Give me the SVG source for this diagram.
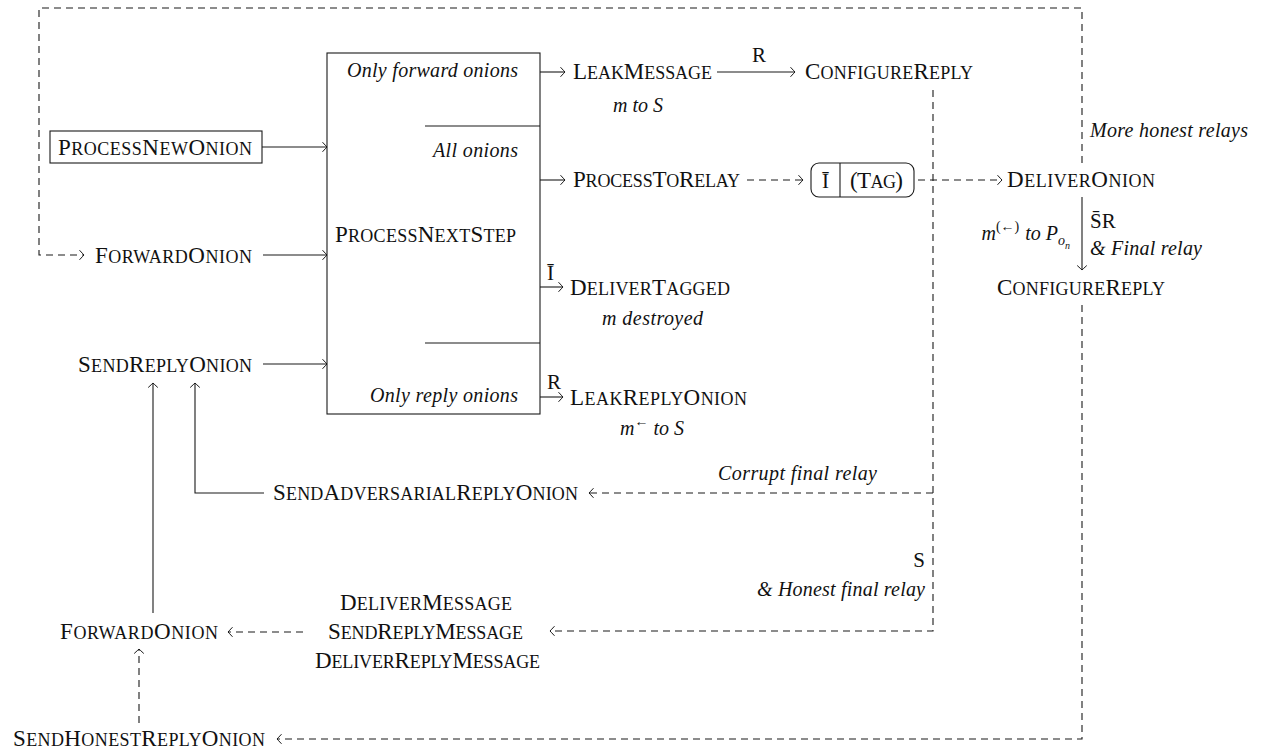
<svg xmlns="http://www.w3.org/2000/svg" width="1262" height="753" viewBox="0 0 1262 753">
<style>
.sc{font-family:"Liberation Serif","Times New Roman",serif;font-size:25.7px;font-variant:small-caps;fill:#111}
.C{font-size:23px}
.it{font-family:"Liberation Serif","Times New Roman",serif;font-size:20px;font-style:italic;fill:#111}
.rm{font-family:"Liberation Serif","Times New Roman",serif;font-size:21px;fill:#111}
.ln{fill:none;stroke:#1a1a1a;stroke-width:1.1}
.ds{fill:none;stroke:#1a1a1a;stroke-width:1.1;stroke-dasharray:7 5}
.box{fill:#fff;stroke:#1a1a1a;stroke-width:1.1}
.end{text-anchor:end}
.mid{text-anchor:middle}
</style>
<defs>
<marker id="to" viewBox="-6 -6 8 12" refX="0" refY="0" markerWidth="8" markerHeight="12" markerUnits="userSpaceOnUse" orient="auto">
<path d="M-4.5,-4.8 Q-1.2,-1.2 0,0 Q-1.2,1.2 -4.5,4.8" fill="none" stroke="#1a1a1a" stroke-width="1" stroke-dasharray="none"/>
</marker>
</defs>

<g id="connectors">
<line class="ln" x1="262" y1="147" x2="327" y2="147" marker-end="url(#to)"/>
<line class="ln" x1="263" y1="255" x2="327" y2="255" marker-end="url(#to)"/>
<line class="ln" x1="263" y1="364" x2="327" y2="364" marker-end="url(#to)"/>
<line class="ln" x1="540" y1="72" x2="565" y2="72" marker-end="url(#to)"/>
<line class="ln" x1="717" y1="72" x2="795" y2="72" marker-end="url(#to)"/>
<line class="ln" x1="540" y1="180" x2="565" y2="180" marker-end="url(#to)"/>
<line class="ds" x1="747" y1="180" x2="803" y2="180" marker-end="url(#to)"/>
<line class="ds" x1="918" y1="180" x2="1002" y2="180" marker-end="url(#to)"/>
<line class="ln" x1="540" y1="287" x2="563" y2="287" marker-end="url(#to)"/>
<line class="ln" x1="540" y1="397" x2="563" y2="397" marker-end="url(#to)"/>
<line class="ln" x1="1082" y1="197" x2="1082" y2="270" marker-end="url(#to)"/>
<path class="ds" d="M1082,163 V8 H39 V255 H84" marker-end="url(#to)"/>
<path class="ds" d="M933,90 V631 H550" marker-end="url(#to)"/>
<path class="ds" d="M933,493 H589" marker-end="url(#to)"/>
<path class="ds" d="M1082,305 V739 H277" marker-end="url(#to)"/>
<path class="ln" d="M264,493 H195 V383" marker-end="url(#to)"/>
<path class="ln" d="M153,613 V383" marker-end="url(#to)"/>
<path class="ds" d="M303,632 H228" marker-end="url(#to)"/>
<path class="ds" d="M139,723 V649" marker-end="url(#to)"/>
<text class="rm" x="752" y="62">R</text>
<text class="rm" x="547" y="280">Ī</text>
<text class="rm" x="547" y="389">R</text>
<text class="rm" x="1090" y="228">S̄R</text>
<text class="it" x="1090" y="255" textLength="112">&amp; Final relay</text>
<text class="it end" x="1070" y="240">m<tspan font-size="14" dy="-9" font-style="normal">(←)</tspan><tspan dy="9" dx="6">to P</tspan><tspan font-size="14" dy="5">o</tspan><tspan font-size="10" dy="4">n</tspan></text>
<text class="it" x="1090" y="137" textLength="158">More honest relays</text>
<text class="it end" x="877" y="480" textLength="159">Corrupt final relay</text>
<text class="rm end" x="925" y="567">S</text>
<text class="it end" x="925" y="596" textLength="168">&amp; Honest final relay</text>
</g>

<g id="process-new-onion">
<rect class="box" x="50" y="131" width="212" height="32"/>
<text class="sc" x="58" y="155" textLength="194"><tspan class="C">P</tspan>rocess<tspan class="C">N</tspan>ew<tspan class="C">O</tspan>nion</text>
</g>
<g id="forward-onion-top">
<text class="sc" x="95" y="263" textLength="157"><tspan class="C">F</tspan>orward<tspan class="C">O</tspan>nion</text>
</g>
<g id="send-reply-onion">
<text class="sc" x="78" y="372" textLength="174"><tspan class="C">S</tspan>end<tspan class="C">R</tspan>eply<tspan class="C">O</tspan>nion</text>
</g>

<g id="process-next-step">
<rect class="box" x="327" y="53" width="213" height="361"/>
<line class="ln" x1="425" y1="126" x2="540" y2="126"/>
<line class="ln" x1="425" y1="343" x2="540" y2="343"/>
<text class="it end" x="518" y="77" textLength="171">Only forward onions</text>
<text class="it end" x="518" y="157" textLength="85">All onions</text>
<text class="sc" x="335" y="242" textLength="181"><tspan class="C">P</tspan>rocess<tspan class="C">N</tspan>ext<tspan class="C">S</tspan>tep</text>
<text class="it end" x="518" y="402" textLength="148">Only reply onions</text>
</g>

<g id="leak-message">
<text class="sc" x="573" y="79" textLength="139"><tspan class="C">L</tspan>eak<tspan class="C">M</tspan>essage</text>
<text class="it" x="613" y="112">m to S</text>
</g>
<g id="configure-reply-top">
<text class="sc" x="805" y="79" textLength="168"><tspan class="C">C</tspan>onfigure<tspan class="C">R</tspan>eply</text>
</g>
<g id="process-to-relay">
<text class="sc" x="573" y="187" textLength="167"><tspan class="C">P</tspan>rocess<tspan class="C">T</tspan>o<tspan class="C">R</tspan>elay</text>
</g>
<g id="tag-box">
<rect class="box" x="811" y="163" width="103" height="34" rx="8"/>
<line class="ln" x1="840" y1="163" x2="840" y2="197"/>
<text class="rm mid" x="825.5" y="188">Ī</text>
<text class="sc" x="850" y="188" textLength="53"><tspan class="C">(T</tspan>ag<tspan class="C">)</tspan></text>
</g>
<g id="deliver-onion">
<text class="sc" x="1007" y="187" textLength="148"><tspan class="C">D</tspan>eliver<tspan class="C">O</tspan>nion</text>
</g>
<g id="configure-reply-right">
<text class="sc" x="997" y="295" textLength="168"><tspan class="C">C</tspan>onfigure<tspan class="C">R</tspan>eply</text>
</g>
<g id="deliver-tagged">
<text class="sc" x="570" y="295" textLength="160"><tspan class="C">D</tspan>eliver<tspan class="C">T</tspan>agged</text>
<text class="it" x="602" y="325" textLength="101">m destroyed</text>
</g>
<g id="leak-reply-onion">
<text class="sc" x="570" y="405" textLength="177"><tspan class="C">L</tspan>eak<tspan class="C">R</tspan>eply<tspan class="C">O</tspan>nion</text>
<text class="it" x="620" y="435">m<tspan font-size="14" dy="-9" font-style="normal">←</tspan><tspan dy="9" dx="5">to S</tspan></text>
</g>
<g id="send-adversarial-reply-onion">
<text class="sc" x="273" y="500" textLength="305"><tspan class="C">S</tspan>end<tspan class="C">A</tspan>dversarial<tspan class="C">R</tspan>eply<tspan class="C">O</tspan>nion</text>
</g>
<g id="message-group">
<text class="sc" x="340" y="610" textLength="172"><tspan class="C">D</tspan>eliver<tspan class="C">M</tspan>essage</text>
<text class="sc" x="328" y="639" textLength="195"><tspan class="C">S</tspan>end<tspan class="C">R</tspan>eply<tspan class="C">M</tspan>essage</text>
<text class="sc" x="315" y="668" textLength="225"><tspan class="C">D</tspan>eliver<tspan class="C">R</tspan>eply<tspan class="C">M</tspan>essage</text>
</g>
<g id="forward-onion-bottom">
<text class="sc" x="60" y="639" textLength="158"><tspan class="C">F</tspan>orward<tspan class="C">O</tspan>nion</text>
</g>
<g id="send-honest-reply-onion">
<text class="sc" x="13" y="746" textLength="252"><tspan class="C">S</tspan>end<tspan class="C">H</tspan>onest<tspan class="C">R</tspan>eply<tspan class="C">O</tspan>nion</text>
</g>
</svg>
